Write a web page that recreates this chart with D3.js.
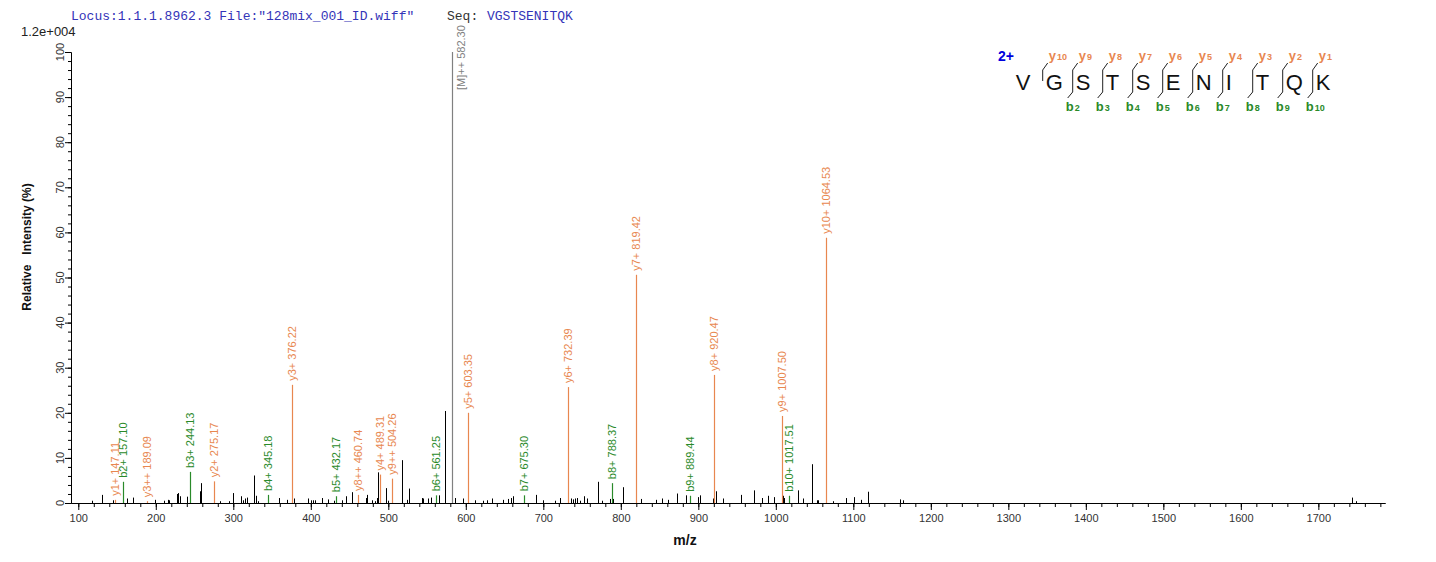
<!DOCTYPE html>
<html><head><meta charset="utf-8">
<script src="https://cdn.jsdelivr.net/npm/d3@7"></script>
<style>html,body{margin:0;padding:0;background:#fff;}svg{display:block;}</style>
</head><body>
<script>
// ---- DATA ----
const titleLocus = 'Locus:1.1.1.8962.3 File:"128mix_001_ID.wiff"';
const titleSeqLabel = 'Seq:';
const peptide = 'VGSTSENITQK';
const precursorCharge = '2+';
const maxIntensityLabel = '1.2e+004';

// annotated peaks
const annMz    = [147.11, 157.10, 189.09, 244.13, 275.17, 345.18, 376.22, 432.17, 460.74, 489.31, 504.26, 561.25, 582.30, 603.35, 675.30, 732.39, 788.37, 819.42, 889.44, 920.47, 1007.50, 1017.51, 1064.53];
const annInt   = [0.7, 4.7, 0.4, 6.9, 4.8, 1.8, 26.2, 1.5, 1.8, 6.3, 5.4, 1.7, 100, 20.0, 1.7, 25.7, 4.4, 50.6, 1.6, 28.4, 19.3, 1.6, 58.8];
const annLabel = ['y1+ 147.11','b2+ 157.10','y3++ 189.09','b3+ 244.13','y2+ 275.17','b4+ 345.18','y3+ 376.22','b5+ 432.17','y8++ 460.74','y4+ 489.31','y9++ 504.26','b6+ 561.25','[M]++ 582.30','y5+ 603.35','b7+ 675.30','y6+ 732.39','b8+ 788.37','y7+ 819.42','b9+ 889.44','y8+ 920.47','y9+ 1007.50','b10+ 1017.51','y10+ 1064.53'];
const annType  = ['y','b','y','b','y','b','y','b','y','y','y','b','M','y','b','y','b','y','b','y','y','b','y'];

// unannotated peaks
const rawMz  = [117.3,130.2,144.4,162.5,171.0,199.0,210.6,215.4,217.4,227.0,229.0,231.2,239.9,257.0,258.7,282.8,294.5,300.0,309.5,312.0,315.0,318.0,326.7,329.3,331.9,359.4,368.9,378.3,396.8,399.9,402.8,405.4,414.8,422.6,429.7,439.9,445.0,452.8,471.2,472.9,478.6,482.8,485.0,487.1,496.6,500.0,518.1,524.5,527.1,543.1,545.2,551.6,555.1,565.4,573.5,586.0,596.8,611.9,622.6,627.0,633.4,648.4,654.8,657.9,660.5,690.6,699.2,715.0,721.5,735.3,737.9,740.9,743.1,747.4,752.9,756.0,771.0,775.3,786.0,790.0,802.4,825.7,845.0,852.8,860.5,872.1,884.1,900.0,902.2,918.6,922.5,931.5,954.7,972.3,981.8,990.0,998.1,1008.9,1011.0,1029.0,1034.7,1047.1,1052.8,1054.8,1074.2,1090.2,1101.4,1110.0,1119.4,1160.3,1163.7,1744.0,1748.0];
const rawInt = [0.5,1.8,0.6,1.0,1.2,0.7,0.5,0.7,0.6,2.0,2.2,1.5,1.4,2.6,4.4,0.4,0.4,2.2,1.5,0.6,1.0,1.2,6.1,1.6,0.4,1.1,0.7,1.0,1.0,0.6,0.6,0.6,1.1,0.8,0.5,0.6,1.5,2.4,1.1,1.8,0.6,0.4,1.1,6.8,3.3,0.5,9.5,0.7,3.2,1.1,1.0,1.0,1.2,1.7,20.4,1.1,1.0,0.6,0.5,0.6,1.0,0.7,0.9,1.1,1.5,1.8,0.6,0.5,1.1,1.0,0.8,1.0,1.1,0.5,1.5,1.0,4.7,0.5,0.9,0.9,3.5,0.9,0.7,1.0,0.7,2.1,1.7,1.3,1.7,1.0,2.6,1.0,1.8,2.8,1.1,1.6,1.3,1.6,1.1,2.8,1.0,8.6,0.6,0.6,0.4,1.1,1.3,0.7,2.5,0.8,0.6,1.2,0.4];

const xTickMajor = [100,200,300,400,500,600,700,800,900,1000,1100,1200,1300,1400,1500,1600,1700];
const yTickMajor = [0,10,20,30,40,50,60,70,80,90,100];
const xTitle = 'm/z';
const yTitle = 'Relative   Intensity (%)';

const bObserved = [2,3,4,5,6,7,8,9,10];
const yObserved = [1,2,3,4,5,6,7,8,9,10];

// ---- STYLE ----
const W = 1436, H = 562;
const ORANGE = '#E8874F', GREEN = '#2A8A2A', GRAY = '#808080';
const FONT = 'Arial, "Liberation Sans", sans-serif';

const svg = d3.select('body').append('svg').attr('width', W).attr('height', H)
  .style('font-family', FONT);
svg.append('rect').attr('width', W).attr('height', H).attr('fill', '#fff');

const x = d3.scaleLinear().domain([90.6, 1786]).range([71, 1385]);
const y = d3.scaleLinear().domain([0, 100]).range([503, 52]);

// title
const mono = '"Liberation Mono", monospace';
svg.append('text').attr('x', 71).attr('y', 20).attr('font-family', mono).attr('font-size', 13)
  .attr('fill', '#3434B8').text(titleLocus);
svg.append('text').attr('x', 447).attr('y', 20).attr('font-family', mono).attr('font-size', 13)
  .attr('fill', '#333').text(titleSeqLabel);
svg.append('text').attr('x', 487).attr('y', 20).attr('font-family', mono).attr('font-size', 13)
  .attr('fill', '#3434B8').text(peptide);

svg.append('text').attr('x', 21).attr('y', 36).attr('font-size', 13).attr('fill', '#222')
  .text(maxIntensityLabel);

// axes
const xMinor = d3.range(100, 1781, 20);
svg.append('g').attr('transform', `translate(0,${y(0)})`)
  .call(d3.axisBottom(x).tickValues(xMinor).tickSize(4).tickSizeOuter(0).tickFormat(''));
const gx = svg.append('g').attr('transform', `translate(0,${y(0)})`)
  .call(d3.axisBottom(x).tickValues(xTickMajor).tickSize(7).tickSizeOuter(0).tickPadding(4)
    .tickFormat(d3.format('d')));
gx.selectAll('text').attr('font-size', 11).attr('fill', '#333').attr('font-family', FONT);

const yMinor = d3.range(0, 101, 2);
svg.append('g').attr('transform', `translate(71,0)`)
  .call(d3.axisLeft(y).tickValues(yMinor).tickSize(3).tickSizeOuter(0).tickFormat(''));
svg.append('g').attr('transform', `translate(71,0)`)
  .call(d3.axisLeft(y).tickValues(yTickMajor).tickSize(6).tickSizeOuter(0).tickFormat(''));
svg.selectAll('.domain, .tick line').attr('stroke', '#000');

svg.append('g').selectAll('text').data(yTickMajor).join('text')
  .attr('transform', d => `translate(60,${y(d)}) rotate(-90)`)
  .attr('text-anchor', 'middle').attr('dy', '0.35em')
  .attr('font-size', 11).attr('fill', '#333').text(d => d);

svg.append('text').attr('transform', `translate(27,247) rotate(-90)`)
  .attr('text-anchor', 'middle').attr('dy', '0.35em').attr('font-size', 12)
  .attr('font-weight', 'bold').attr('fill', '#111')
  .style('white-space', 'pre').text(yTitle);
svg.append('text').attr('x', 685).attr('y', 545).attr('text-anchor', 'middle')
  .attr('font-size', 14).attr('font-weight', 'bold').attr('fill', '#111').text(xTitle);

// raw peaks
svg.append('g').selectAll('line').data(rawMz.map((m, i) => [m, rawInt[i]])).join('line')
  .attr('x1', d => Math.round(x(d[0])) + 0.5).attr('x2', d => Math.round(x(d[0])) + 0.5)
  .attr('y1', y(0)).attr('y2', d => y(d[1]))
  .attr('stroke', '#000').attr('stroke-width', 1);

// annotated peaks
const ann = annMz.map((m, i) => ({ mz: m, v: annInt[i], label: annLabel[i], type: annType[i] }));
const col = t => t === 'y' ? ORANGE : t === 'b' ? GREEN : GRAY;
svg.append('g').selectAll('line').data(ann).join('line')
  .attr('x1', d => Math.round(x(d.mz)) + 0.5).attr('x2', d => Math.round(x(d.mz)) + 0.5)
  .attr('y1', y(0)).attr('y2', d => y(d.v))
  .attr('stroke', d => col(d.type)).attr('stroke-width', 1.2);

const lg = svg.append('g');
ann.forEach(d => {
  const px = Math.round(x(d.mz)) + 0.5, top = y(d.v);
  const t = lg.append('text').attr('font-size', 11).attr('fill', col(d.type))
    .attr('dy', '0.35em').attr('text-anchor', 'start').text(d.label);
  const len = t.node().getComputedTextLength();
  if (top - 4 - len < 3) {
    // no room above the peak: place beside the line, below the top edge
    t.attr('transform', `translate(${px + 9},${top + 38}) rotate(-90)`);
  } else {
    t.attr('transform', `translate(${px},${top - 4}) rotate(-90)`);
  }
});

// sequence legend
const seq = peptide.split('');
const lx0 = 1042.7, step = 30;
const leg = svg.append('g');
seq.forEach((c, i) => {
  leg.append('text').attr('x', lx0 - step + 3 + step * i).attr('y', 90)
    .attr('font-size', 22).attr('fill', '#111').text(c);
});
leg.append('text').attr('x', 998).attr('y', 61).attr('font-size', 14)
  .attr('font-weight', 'bold').attr('fill', '#0000DD').text(precursorCharge);
for (let k = 1; k < seq.length; k++) {
  const sx = lx0 + step * (k - 1);
  const yi = seq.length - k;
  if (yObserved.includes(yi)) {
    leg.append('path').attr('d', `M${sx},81V70L${sx + 5},63`).attr('fill', 'none')
      .attr('stroke', '#222').attr('stroke-width', 1);
    const t = leg.append('text').attr('x', sx + 6).attr('y', 60).attr('fill', ORANGE)
      .attr('font-weight', 'bold');
    t.append('tspan').attr('font-size', 13).text('y');
    t.append('tspan').attr('font-size', 9).attr('dx', 1).text(yi);
  }
  if (bObserved.includes(k)) {
    leg.append('path').attr('d', `M${sx},81V92L${sx - 5},98`).attr('fill', 'none')
      .attr('stroke', '#222').attr('stroke-width', 1);
    const t = leg.append('text').attr('x', sx - 7).attr('y', 111).attr('fill', GREEN)
      .attr('font-weight', 'bold');
    t.append('tspan').attr('font-size', 13).text('b');
    t.append('tspan').attr('font-size', 9).attr('dx', 1).text(k);
  }
}
</script>
</body></html>
